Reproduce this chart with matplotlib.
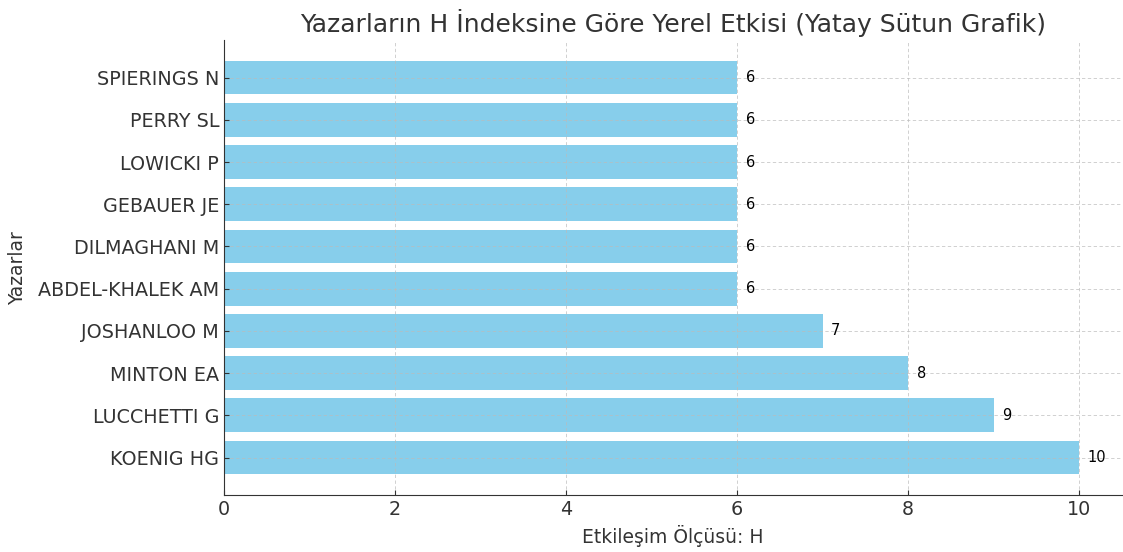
import matplotlib
matplotlib.use("Agg")
import matplotlib.pyplot as plt

authors = ["KOENIG HG", "LUCCHETTI G", "MINTON EA", "JOSHANLOO M", "ABDEL-KHALEK AM",
           "DILMAGHANI M", "GEBAUER JE", "LOWICKI P", "PERRY SL", "SPIERINGS N"]
h_index = [10, 9, 8, 7, 6, 6, 6, 6, 6, 6]

plt.rcParams['text.color'] = '#333333'
plt.rcParams['axes.labelcolor'] = '#333333'
plt.rcParams['xtick.color'] = '#333333'
plt.rcParams['ytick.color'] = '#333333'

fig, ax = plt.subplots(figsize=(11.23, 5.52), dpi=100)
fig.subplots_adjust(left=0.1995, right=0.999, bottom=0.103, top=0.9275)

bars = ax.barh(authors, h_index, color='skyblue')

# value labels at bar ends
for bar, v in zip(bars, h_index):
    ax.text(bar.get_width() + 0.1, bar.get_y() + bar.get_height() / 2, str(v),
            va='center', ha='left', fontsize=10.5, color='black')

ax.set_title('Yazarların H İndeksine Göre Yerel Etkisi (Yatay Sütun Grafik)', fontsize=18)
ax.set_xlabel('Etkileşim Ölçüsü: H', fontsize=13.5)
ax.set_ylabel('Yazarlar', fontsize=13.5, labelpad=8)
ax.tick_params(axis='both', direction='in', labelsize=13.8)
ax.grid(True, linestyle=(0, (4, 3)), color='#bbbbbb', linewidth=0.6, alpha=0.8)
ax.spines['top'].set_visible(False)
ax.spines['right'].set_visible(False)
ax.spines['left'].set_color('#333333')
ax.spines['bottom'].set_color('#333333')

fig.savefig('out.png', dpi=100)
